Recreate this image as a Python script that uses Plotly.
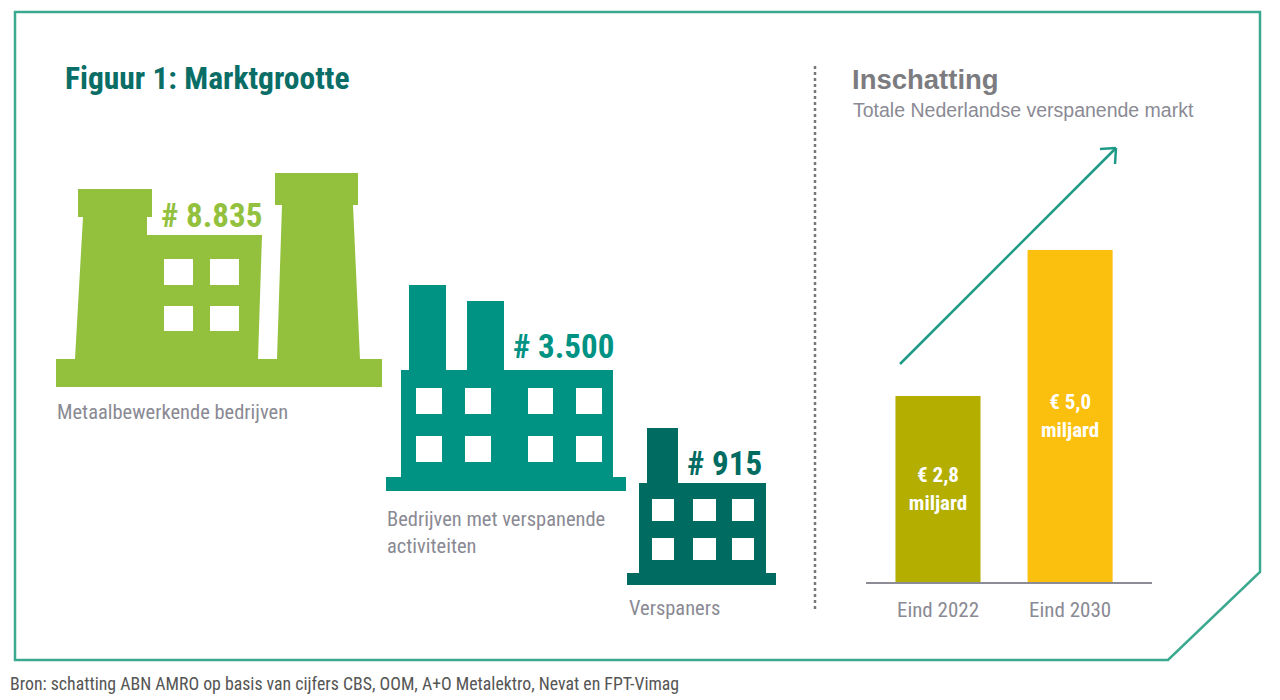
import plotly.graph_objects as go

# data
factory_labels = ["Metaalbewerkende bedrijven", "Bedrijven met verspanende<br>activiteiten", "Verspaners"]
factory_counts = [8835, 3500, 915]
factory_colors = ["#93c13d", "#009384", "#006b61"]

years = ["Eind 2022", "Eind 2030"]
market_bn = [2.8, 5.0]
bar_colors = ["#b3ae00", "#fbbf0e"]

# the page body has an 8px margin, so the figure is 8px smaller and
# the pixel axis starts at 8 -> data coordinates equal page pixels
OFF = 8
W, H = 1280 - OFF, 700 - OFF
NARROW = "Liberation Sans Narrow, Roboto Condensed, Arial Narrow, sans-serif"
SANS = "Liberation Sans, Arial, sans-serif"
GREY = "#8a8a94"


def nl(n):
    return "# " + f"{n:,}".replace(",", ".")


def poly(pts):
    return "M " + " L ".join(f"{x},{y}" for x, y in pts) + " Z"


def rect(x0, y0, x1, y1, color):
    return dict(type="rect", xref="x", yref="y", x0=x0, y0=y0, x1=x1, y1=y1,
                fillcolor=color, line=dict(width=0), layer="above")


def px_x(x):
    return (x - OFF) / W


def px_y(y):
    return (700 - y) / H


shapes = []

# outer frame with cut corner
shapes.append(dict(type="path", xref="x", yref="y",
                   path=poly([(15, 12), (1260, 12), (1260, 572), (1168, 660), (15, 660)]),
                   line=dict(color="#3aa98f", width=2.5), fillcolor="rgba(0,0,0,0)"))

# dotted divider
shapes.append(dict(type="line", xref="x", yref="y", x0=815, x1=815, y0=66, y1=612,
                   line=dict(color="#777777", width=2.5, dash="dot")))

# factory 1
f1 = [(56, 359), (75, 359), (83, 217), (78, 217), (78, 189), (152, 189), (152, 217),
      (147, 217), (147, 235), (262, 235), (258, 359), (277, 359), (282, 205), (275, 205),
      (275, 173), (358, 173), (358, 205), (353, 205), (360, 359), (382, 359), (382, 387),
      (56, 387)]
shapes.append(dict(type="path", xref="x", yref="y", path=poly(f1),
                   fillcolor=factory_colors[0], line=dict(width=0), layer="above"))
for x0, x1 in [(164, 193), (210, 239)]:
    for y0, y1 in [(259, 285), (306, 331)]:
        shapes.append(rect(x0, y0, x1, y1, "white"))

# factory 2
c2 = factory_colors[1]
shapes += [rect(386, 477, 626, 491, c2), rect(401, 370, 613, 478, c2),
           rect(409, 285, 446, 371, c2), rect(467, 301, 504, 371, c2)]
for x0, x1 in [(416, 442), (465, 491), (528, 553), (576, 602)]:
    for y0, y1 in [(388, 414), (436, 462)]:
        shapes.append(rect(x0, y0, x1, y1, "white"))

# factory 3
c3 = factory_colors[2]
shapes += [rect(627, 573, 776, 585, c3), rect(639, 483, 766, 574, c3),
           rect(647, 428, 678, 484, c3)]
for x0, x1 in [(652, 674), (693, 716), (732, 754)]:
    for y0, y1 in [(499, 521), (538, 560)]:
        shapes.append(rect(x0, y0, x1, y1, "white"))

# growth arrow
arrow = "#1f9a86"
shapes += [dict(type="line", xref="x", yref="y", x0=900, y0=364, x1=1115, y1=149,
                line=dict(color=arrow, width=2.5)),
           dict(type="line", xref="x", yref="y", x0=1100, y0=149, x1=1116, y1=148,
                line=dict(color=arrow, width=2.5)),
           dict(type="line", xref="x", yref="y", x0=1115, y0=164, x1=1116, y1=148,
                line=dict(color=arrow, width=2.5))]

fig = go.Figure()

fig.add_trace(go.Bar(
    x=[0, 1], y=market_bn, width=0.644, marker=dict(color=bar_colors, line=dict(width=0)),
    text=[f"€ {v:.1f}".replace(".", ",") + "<br>miljard" for v in market_bn],
    textposition="inside", insidetextanchor="middle",
    textfont=dict(family=NARROW, size=21, color="white", weight="bold"),
    xaxis="x2", yaxis="y2", hoverinfo="skip", showlegend=False,
))

ann = []


def txt(x, y, s, size, color, family=NARROW, bold=False, xanchor="left"):
    ann.append(dict(x=x, y=y, xref="x", yref="y", text=s, showarrow=False,
                    xanchor=xanchor, yanchor="middle", align="left",
                    font=dict(family=family, size=size, color=color,
                              weight="bold" if bold else "normal")))


txt(63, 78, "Figuur 1: Marktgrootte", 31.5, "#0a6e67", bold=True)
txt(850, 79, "Inschatting", 27.5, "#7c7c80", family=SANS, bold=True)
txt(851, 110, "Totale Nederlandse verspanende markt", 19.5, GREY, family=SANS)

txt(211, 215, nl(factory_counts[0]), 33, factory_colors[0], bold=True, xanchor="center")
txt(563, 346, nl(factory_counts[1]), 33, factory_colors[1], bold=True, xanchor="center")
txt(724, 463, nl(factory_counts[2]), 33, factory_colors[2], bold=True, xanchor="center")

txt(55, 412, factory_labels[0], 20.5, GREY)
ann.append(dict(x=385, y=532, xref="x", yref="y", text=factory_labels[1], showarrow=False,
                xanchor="left", yanchor="middle", align="left",
                font=dict(family=NARROW, size=20.5, color=GREY)))
txt(627, 608, factory_labels[2], 20.5, GREY)

txt(8, 683, "Bron: schatting ABN AMRO op basis van cijfers CBS, OOM, A+O Metalektro, Nevat en FPT-Vimag",
    17.8, "#555555")

fig.update_layout(
    width=W, height=H, margin=dict(l=0, r=0, t=0, b=0, pad=0),
    paper_bgcolor="white", plot_bgcolor="rgba(0,0,0,0)",
    shapes=shapes, annotations=ann, showlegend=False,
    xaxis=dict(range=[OFF, 1280], domain=[0, 1], visible=False, fixedrange=True),
    yaxis=dict(range=[700, OFF], domain=[0, 1], visible=False, fixedrange=True),
    xaxis2=dict(domain=[px_x(866), px_x(1152)], range=[-0.545, 1.62], anchor="y2",
                tickmode="array", tickvals=[0, 1], ticktext=years,
                tickfont=dict(family=NARROW, size=21, color=GREY),
                ticks="outside", ticklen=8, tickcolor="rgba(0,0,0,0)",
                showline=True, linecolor="#8c8c96", linewidth=2,
                showgrid=False, zeroline=False, fixedrange=True),
    yaxis2=dict(domain=[px_y(582), px_y(250)], range=[0, 5.0], anchor="x2",
                visible=False, showgrid=False, zeroline=False, fixedrange=True),
)

fig.write_html("out.html")
